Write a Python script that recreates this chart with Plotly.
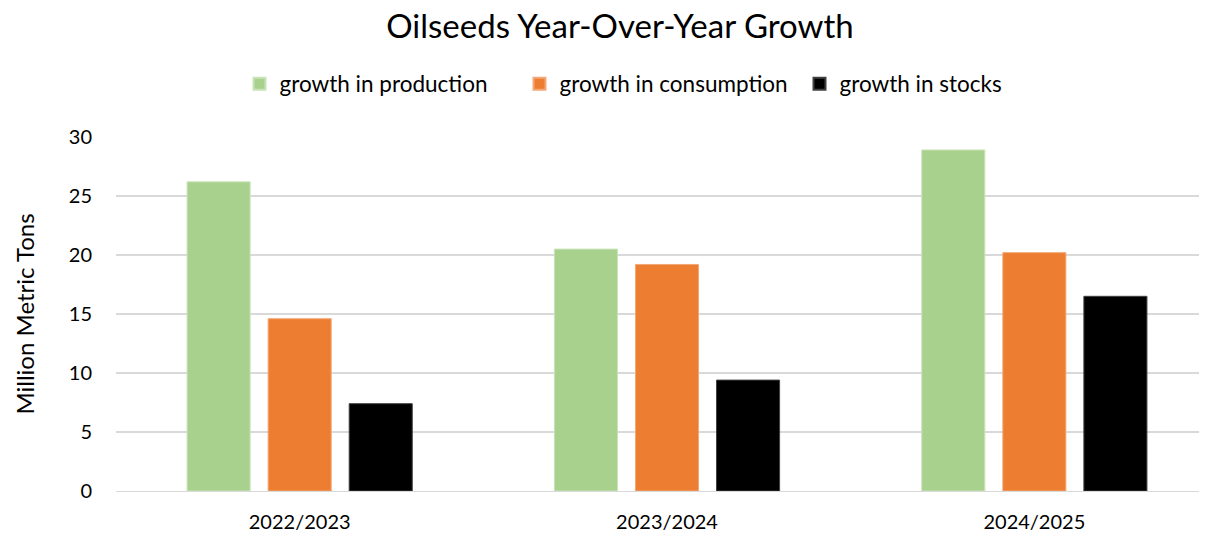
import plotly.graph_objects as go

categories = ["2022/2023", "2023/2024", "2024/2025"]
production = [26.2, 20.5, 28.9]
consumption = [14.6, 19.2, 20.2]
stocks = [7.4, 9.4, 16.5]
series_names = ["growth in production", "growth in consumption", "growth in stocks"]
colors = ["#A9D18E", "#ED7D31", "#000000"]
line_colors = ["#C9E3B8", "#F3A877", "#404040"]
y_ticks = [0, 5, 10, 15, 20, 25, 30]

FONT = "Lato, Carlito, Calibri, sans-serif"
W, H = 1199, 525

fig = go.Figure()
for name, vals, c, lc in zip(series_names, [production, consumption, stocks], colors, line_colors):
    fig.add_trace(go.Bar(
        x=categories, y=vals, name=name,
        marker=dict(color=c, line=dict(color=lc, width=1)),
    ))

fig.update_layout(
    width=W, height=H,
    margin=dict(l=108, r=0, t=129, b=42, autoexpand=False),
    paper_bgcolor="white", plot_bgcolor="white",
    font=dict(family=FONT, color="#000000", size=20),
    title=dict(text="Oilseeds Year-Over-Year Growth", x=(620 - 8) / W, xanchor="center",
               y=1 - 18 / H, yanchor="middle", font=dict(size=33, family=FONT, color="#000000")),
    barmode="group", bargap=0.338, bargroupgap=0.222,
    showlegend=True,
    legend=dict(orientation="h", x=(659.5 - 8) / W, xanchor="center", xref="container",
                y=1 - 76 / H, yanchor="middle", yref="container",
                font=dict(size=22.5, family=FONT, color="#000000"),
                entrywidth=235, entrywidthmode="pixels",
                itemsizing="constant", traceorder="normal"),
    xaxis=dict(type="category", range=[-0.5, 2.47], showgrid=False, showline=True,
               linecolor="#D9D9D9", linewidth=1, ticks="", ticklabelstandoff=13,
               tickfont=dict(size=20, family=FONT)),
    yaxis=dict(range=[0, 30], tickvals=y_ticks, showgrid=True, gridcolor="#D9D9D9",
               gridwidth=2, zeroline=False, showline=False, ticks="", ticklabelstandoff=23,
               tickfont=dict(size=20, family=FONT),
               title=dict(text="Million Metric Tons", standoff=27, font=dict(size=24, family=FONT))),
)

fig.write_html("out.html")
